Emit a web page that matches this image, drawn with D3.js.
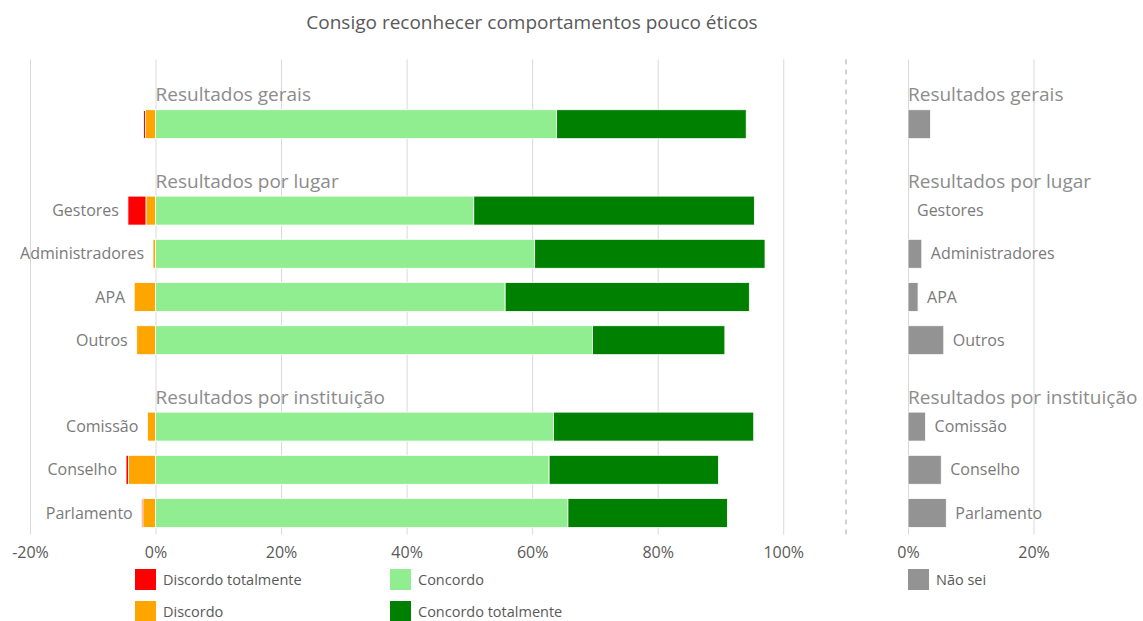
<!DOCTYPE html>
<html>

<head>
    <meta charset="utf-8">
    <script src="https://cdn.jsdelivr.net/npm/d3@7"></script>
    <style>
        body { margin: 0; background: #fff; }
        text { font-family: "Open Sans", sans-serif; }
    </style>
</head>

<body>
    <div id="my_dataviz"></div>
    <script>

        // data (percent of answers)
        var groups = ["Resultados gerais", "Resultados por lugar", "Resultados por instituição"];
        var categories = ["Geral", "Gestores", "Administradores", "APA", "Outros", "Comissão", "Conselho", "Parlamento"];
        var categoryLabels = ["", "Gestores", "Administradores", "APA", "Outros", "Comissão", "Conselho", "Parlamento"];
        var categoryGroup = [0, 1, 1, 1, 1, 2, 2, 2];
        var discordoTotalmente = [0.3, 2.9, 0, 0, 0, 0, 0.4, 0.2];
        var discordo = [1.6, 1.5, 0.4, 3.4, 3.0, 1.3, 4.3, 2.0];
        var concordo = [63.9, 50.7, 60.4, 55.7, 69.6, 63.4, 62.7, 65.7];
        var concordoTotalmente = [30.2, 44.7, 36.7, 38.9, 21.1, 31.9, 27.0, 25.4];
        var naoSei = [3.6, 0, 2.2, 1.6, 5.7, 2.8, 5.3, 6.1];
        var leftTicks = [-20, 0, 20, 40, 60, 80, 100];
        var rightTicks = [0, 20];
        var legendLeft = ["Discordo totalmente", "Discordo", "Concordo", "Concordo totalmente"];
        var legendRight = ["Não sei"];
        var title = "Consigo reconhecer comportamentos pouco éticos";

        var colors = {
            "Discordo totalmente": "#ff0000",
            "Discordo": "#ffa500",
            "Concordo": "#90ee90",
            "Concordo totalmente": "#008000",
            "Não sei": "#939393"
        };

        var width = 1143, height = 621;
        var plotTop = 59.4, plotBottom = 534.6;

        var svg = d3.select("#my_dataviz")
            .append("svg")
            .attr("width", width)
            .attr("height", height);

        // rows: one header slot per group, then its categories
        var slots = [];
        groups.forEach(function (g, gi) {
            slots.push("h" + gi);
            categories.forEach(function (c, ci) {
                if (categoryGroup[ci] === gi) slots.push(c);
            });
        });

        var y = d3.scaleBand()
            .domain(slots)
            .range([plotTop, plotBottom])
            .paddingInner(0.33)
            .paddingOuter(0.165);

        var x = d3.scaleLinear().domain([-20, 110]).range([30, 846]);
        var k = x(1) - x(0);
        var x2 = d3.scaleLinear().domain([0, 20]).range([908, 908 + 20 * k]);

        // title
        svg.append("text")
            .attr("x", 532)
            .attr("y", 29)
            .attr("text-anchor", "middle")
            .style("font-size", "19px")
            .style("fill", "#595959")
            .text(title);

        // axes with gridlines
        function pct(d) { return d + "%"; }
        var axL = svg.append("g")
            .attr("transform", "translate(0," + plotBottom + ")")
            .call(d3.axisBottom(x).tickValues(leftTicks).tickFormat(pct)
                .tickSize(-(plotBottom - plotTop)).tickPadding(12));
        var axR = svg.append("g")
            .attr("transform", "translate(0," + plotBottom + ")")
            .call(d3.axisBottom(x2).tickValues(rightTicks).tickFormat(pct)
                .tickSize(-(plotBottom - plotTop)).tickPadding(12));
        [axL, axR].forEach(function (ax) {
            ax.select(".domain").remove();
            ax.selectAll("line").attr("stroke", "#d9d9d9");
            ax.selectAll("text")
                .style("font-size", "16px")
                .style("font-family", "'Open Sans', sans-serif")
                .attr("fill", "#595959");
        });

        // dashed separator
        svg.append("line")
            .attr("x1", x(110)).attr("x2", x(110))
            .attr("y1", plotTop).attr("y2", plotBottom)
            .attr("stroke", "#a6a6a6")
            .attr("stroke-dasharray", "5,5");

        // stacked segments
        var rows = categories.map(function (c, i) {
            var dt = discordoTotalmente[i], d = discordo[i], co = concordo[i], ct = concordoTotalmente[i];
            return {
                key: c, label: categoryLabels[i], ns: naoSei[i], neg: dt + d,
                segs: [
                    { s: "Discordo totalmente", x0: -(dt + d), x1: -d },
                    { s: "Discordo", x0: -d, x1: 0 },
                    { s: "Concordo", x0: 0, x1: co },
                    { s: "Concordo totalmente", x0: co, x1: co + ct }
                ]
            };
        });

        var rowG = svg.append("g")
            .selectAll("g")
            .data(rows)
            .enter().append("g");

        rowG.selectAll("rect")
            .data(function (d) { return d.segs.filter(function (s) { return s.x1 > s.x0; }).map(function (s) { s.key = d.key; return s; }); })
            .enter().append("rect")
            .attr("x", function (s) { return x(s.x0); })
            .attr("width", function (s) { return x(s.x1) - x(s.x0); })
            .attr("y", function (s) { return y(s.key); })
            .attr("height", y.bandwidth())
            .attr("fill", function (s) { return colors[s.s]; })
            .attr("stroke", "#fff")
            .attr("stroke-width", 0.8);

        rowG.append("text")
            .attr("x", function (d) { return x(-d.neg) - 9; })
            .attr("y", function (d) { return y(d.key) + y.bandwidth() / 2; })
            .attr("dy", "0.35em")
            .attr("text-anchor", "end")
            .style("font-size", "16px")
            .style("fill", "#7a7a7a")
            .text(function (d) { return d.label; });

        // Não sei panel
        rowG.filter(function (d) { return d.ns > 0; })
            .append("rect")
            .attr("x", x2(0))
            .attr("width", function (d) { return x2(d.ns) - x2(0); })
            .attr("y", function (d) { return y(d.key); })
            .attr("height", y.bandwidth())
            .attr("fill", colors["Não sei"])
            .attr("stroke", "#fff")
            .attr("stroke-width", 0.8);

        rowG.append("text")
            .attr("x", function (d) { return x2(d.ns) + 9; })
            .attr("y", function (d) { return y(d.key) + y.bandwidth() / 2; })
            .attr("dy", "0.35em")
            .style("font-size", "16px")
            .style("fill", "#7a7a7a")
            .text(function (d) { return d.label; });

        // group headers in both panels
        groups.forEach(function (g, gi) {
            [x(0), x2(0)].forEach(function (hx) {
                svg.append("text")
                    .attr("x", hx)
                    .attr("y", y("h" + gi) + y.bandwidth() + 6)
                    .style("font-size", "19px")
                    .style("fill", "#8c8c8c")
                    .text(g);
            });
        });

        // legend
        var legendItems = [
            { s: legendLeft[0], x: 135, y: 569 },
            { s: legendLeft[1], x: 135, y: 601 },
            { s: legendLeft[2], x: 390, y: 569 },
            { s: legendLeft[3], x: 390, y: 601 },
            { s: legendRight[0], x: 908, y: 569 }
        ];
        var lg = svg.append("g")
            .selectAll("g")
            .data(legendItems)
            .enter().append("g")
            .attr("transform", function (d) { return "translate(" + d.x + "," + d.y + ")"; });
        lg.append("rect")
            .attr("width", 21).attr("height", 21)
            .attr("fill", function (d) { return colors[d.s]; });
        lg.append("text")
            .attr("x", 28).attr("y", 10.5)
            .attr("dy", "0.35em")
            .style("font-size", "14.5px")
            .style("fill", "#595959")
            .text(function (d) { return d.s; });

    </script>
</body>

</html>
